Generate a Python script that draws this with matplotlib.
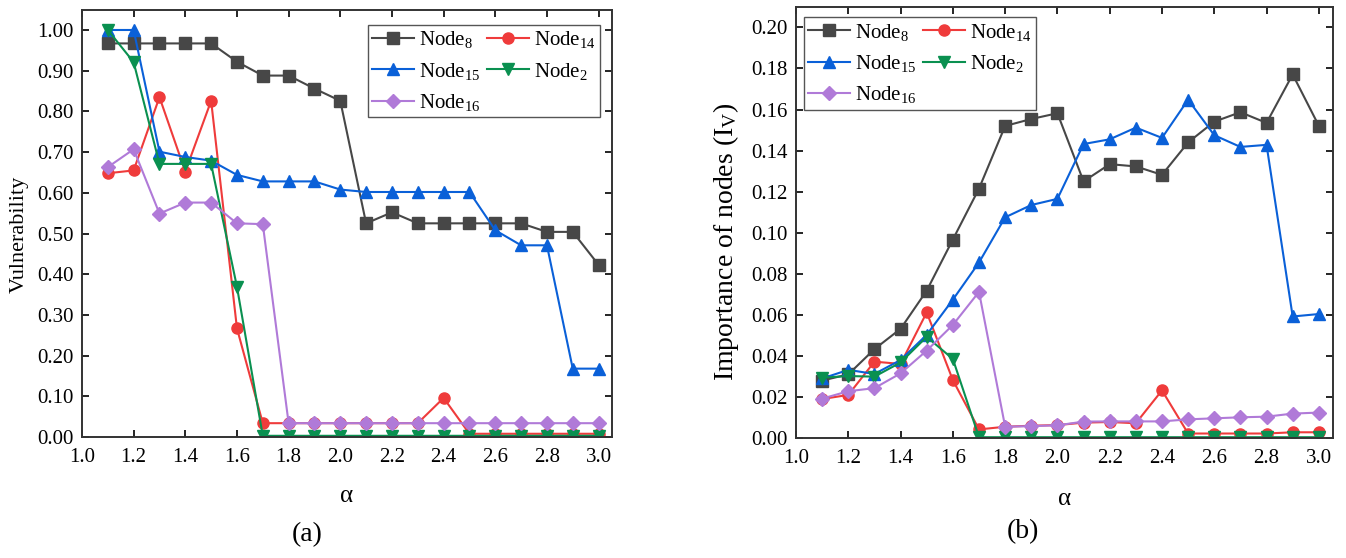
import numpy as np
import matplotlib
matplotlib.use("Agg")
from matplotlib import pyplot as plt
from matplotlib.ticker import FormatStrFormatter, MultipleLocator

plt.rcParams['font.family'] = ['Liberation Serif', 'DejaVu Serif']
plt.rcParams['mathtext.fontset'] = 'custom'
plt.rcParams['mathtext.rm'] = 'Liberation Serif'
plt.rcParams['mathtext.it'] = 'Liberation Serif:italic'

alpha = [1.1, 1.2, 1.3, 1.4, 1.5, 1.6, 1.7, 1.8, 1.9, 2.0,
         2.1, 2.2, 2.3, 2.4, 2.5, 2.6, 2.7, 2.8, 2.9, 3.0]

# (a) vulnerability
vul_node8 = [0.967, 0.967, 0.967, 0.967, 0.967, 0.922, 0.888, 0.888, 0.856, 0.826,
             0.525, 0.552, 0.525, 0.525, 0.525, 0.525, 0.525, 0.504, 0.504, 0.423]
vul_node14 = [0.648, 0.655, 0.835, 0.652, 0.826, 0.267, 0.034, 0.034, 0.034, 0.034,
              0.034, 0.034, 0.034, 0.096, 0.008, 0.008, 0.008, 0.008, 0.008, 0.008]
vul_node15 = [1.0, 1.0, 0.701, 0.688, 0.679, 0.644, 0.628, 0.628, 0.628, 0.608,
              0.602, 0.602, 0.602, 0.602, 0.602, 0.508, 0.471, 0.471, 0.168, 0.168]
vul_node2 = [1.0, 0.921, 0.671, 0.671, 0.671, 0.369, 0.003, 0.003, 0.003, 0.003,
             0.003, 0.003, 0.003, 0.003, 0.003, 0.003, 0.003, 0.003, 0.003, 0.003]
vul_node16 = [0.663, 0.707, 0.549, 0.576, 0.576, 0.525, 0.523, 0.034, 0.034, 0.034,
              0.034, 0.034, 0.034, 0.034, 0.034, 0.034, 0.034, 0.034, 0.034, 0.034]

# (b) importance of nodes
imp_node8 = [0.028, 0.031, 0.0433, 0.0532, 0.0718, 0.0967, 0.1215, 0.152, 0.1554, 0.1582,
             0.125, 0.1334, 0.1323, 0.1282, 0.144, 0.1541, 0.1587, 0.1535, 0.1771, 0.1521]
imp_node14 = [0.019, 0.021, 0.0372, 0.0361, 0.0612, 0.0282, 0.0042, 0.0055, 0.006, 0.0063,
              0.0075, 0.0078, 0.0072, 0.0232, 0.0022, 0.0022, 0.0022, 0.0022, 0.0028, 0.0028]
imp_node15 = [0.029, 0.0332, 0.0312, 0.038, 0.0503, 0.0674, 0.0855, 0.1075, 0.1135, 0.1165,
              0.1432, 0.1455, 0.1512, 0.1462, 0.1648, 0.1475, 0.1418, 0.1428, 0.0592, 0.0604]
imp_node2 = [0.0294, 0.0302, 0.0299, 0.0368, 0.0493, 0.0385, 0.0004, 0.0004, 0.0004, 0.0004,
             0.0004, 0.0004, 0.0004, 0.0004, 0.0004, 0.0004, 0.0004, 0.0004, 0.0004, 0.0004]
imp_node16 = [0.0192, 0.0228, 0.0243, 0.0315, 0.0426, 0.0551, 0.0712, 0.0055, 0.0058, 0.0062,
              0.008, 0.0081, 0.0081, 0.0081, 0.0091, 0.0096, 0.0101, 0.0104, 0.0119, 0.0124]

labels = [r'Node$_{\mathrm{8}}$', r'Node$_{\mathrm{14}}$', r'Node$_{\mathrm{15}}$',
          r'Node$_{\mathrm{2}}$', r'Node$_{\mathrm{16}}$']
colors = ['#474747', '#ef3b3b', '#0a60d8', '#0a9050', '#b07ad8']
markers = ['s', 'o', '^', 'v', 'D']
msizes = [8, 8, 9, 9, 7]

fig = plt.figure(figsize=(13.46, 5.58), dpi=100)
ax1 = fig.add_axes([0.0609, 0.2168, 0.3938, 0.7652])
ax2 = fig.add_axes([0.5914, 0.2150, 0.3987, 0.7730])


def draw(ax, series, anchor, loc):
    handles = []
    for ys, lab, c, m, ms in zip(series, labels, colors, markers, msizes):
        h, = ax.plot(alpha, ys, color=c, marker=m, markersize=ms, linewidth=1.5,
                     markeredgecolor=c, label=lab)
        handles.append(h)
    # column-wise fill: Node8, Node15, Node16 | Node14, Node2
    order = [0, 2, 4, 1, 3]
    ax.legend([handles[i] for i in order], [labels[i] for i in order], ncol=2,
              loc=loc, bbox_to_anchor=anchor, fontsize=15, frameon=True,
              fancybox=False, edgecolor='#555555', framealpha=1,
              handlelength=2.0, handletextpad=0.25, columnspacing=0.3,
              labelspacing=0.5, borderpad=0.2, borderaxespad=0)
    ax.xaxis.set_major_locator(MultipleLocator(0.2))
    ax.xaxis.set_major_formatter(FormatStrFormatter('%.1f'))
    ax.tick_params(direction='in', top=True, right=True, length=5, width=1.2,
                   labelsize=15, pad=8)
    ax.tick_params(axis='y', pad=6)
    for s in ax.spines.values():
        s.set_linewidth(1.4)
        s.set_color('#333333')
    ax.set_xlabel('α', fontsize=18)


draw(ax1, [vul_node8, vul_node14, vul_node15, vul_node2, vul_node16],
     (0.977, 0.965), 'upper right')
ax1.set_xlim(1.0, 3.052)
ax1.set_ylim(0, 1.049)
ax1.yaxis.set_major_locator(MultipleLocator(0.1))
ax1.yaxis.set_major_formatter(FormatStrFormatter('%.2f'))
ax1.set_ylabel('Vulnerability', fontsize=16)
ax1.yaxis.set_label_coords(-0.100, 0.475)
ax1.xaxis.set_label_coords(0.5, -0.112)

draw(ax2, [imp_node8, imp_node14, imp_node15, imp_node2, imp_node16],
     (0.015, 0.975), 'upper left')
ax2.set_xlim(1.0, 3.053)
ax2.set_ylim(0, 0.2101)
ax2.yaxis.set_major_locator(MultipleLocator(0.02))
ax2.yaxis.set_major_formatter(FormatStrFormatter('%.2f'))
ax2.set_ylabel(r'Importance of nodes (I$_{\mathrm{V}}$)', fontsize=20)
ax2.yaxis.set_label_coords(-0.103, 0.455)
ax2.xaxis.set_label_coords(0.5, -0.116)

fig.text(307 / 1346, 1 - 535 / 558, '(a)', fontsize=20, ha='center', va='center')
fig.text(1023 / 1346, 1 - 532 / 558, '(b)', fontsize=20, ha='center', va='center')

fig.savefig('out.png', dpi=100)
